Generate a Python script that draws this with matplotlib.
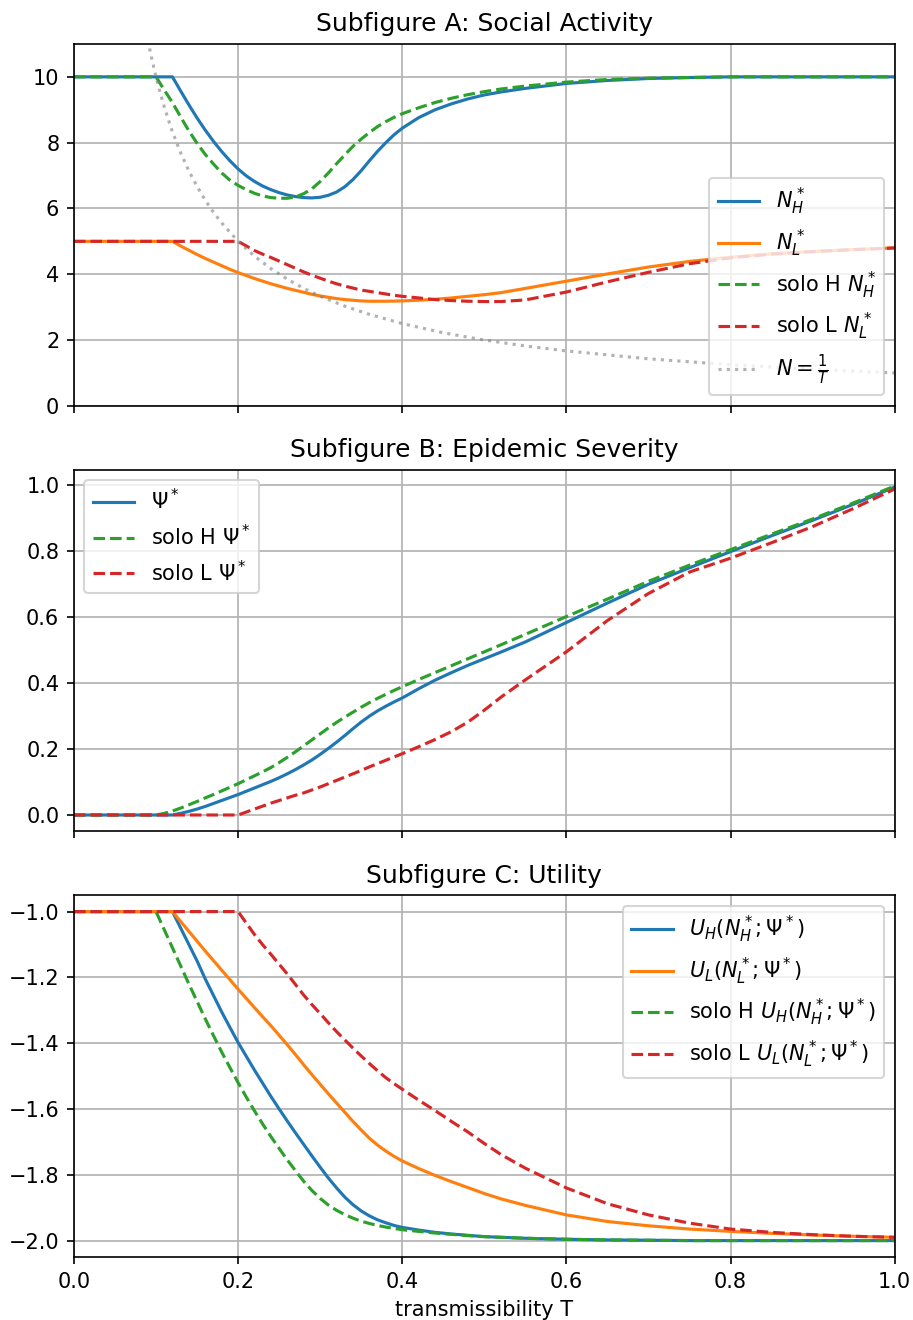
import numpy as np
import matplotlib
matplotlib.use("Agg")
import matplotlib.pyplot as plt

# transmissibility grid shared by all curves
T = [0.00, 0.10, 0.11, 0.12, 0.13, 0.14, 0.15, 0.16, 0.17, 0.18, 0.19,
     0.20, 0.21, 0.22, 0.23, 0.24, 0.25, 0.26, 0.27, 0.28, 0.29,
     0.30, 0.31, 0.32, 0.33, 0.34, 0.35, 0.36, 0.37, 0.38, 0.39,
     0.40, 0.42, 0.44, 0.46, 0.48, 0.50, 0.52, 0.55, 0.60, 0.65,
     0.70, 0.75, 0.80, 0.85, 0.90, 0.95, 1.00]

# Subfigure A: social activity
N_H = [10, 10, 10, 10, 9.57, 9.15, 8.75, 8.38, 8.04, 7.73, 7.45,
       7.20, 6.99, 6.82, 6.68, 6.57, 6.48, 6.41, 6.36, 6.33, 6.32,
       6.34, 6.40, 6.50, 6.66, 6.88, 7.15, 7.45, 7.74, 8.00, 8.24,
       8.44, 8.76, 9.00, 9.18, 9.33, 9.45, 9.54, 9.65, 9.80, 9.89,
       9.95, 9.98, 10, 10, 10, 10, 10]
N_L = [5, 5, 5, 5, 4.86, 4.73, 4.60, 4.48, 4.37, 4.26, 4.15,
       4.05, 3.96, 3.87, 3.79, 3.71, 3.64, 3.57, 3.51, 3.45, 3.39,
       3.34, 3.30, 3.26, 3.23, 3.21, 3.19, 3.18, 3.18, 3.18, 3.185,
       3.19, 3.21, 3.24, 3.28, 3.33, 3.38, 3.44, 3.57, 3.79, 4.01,
       4.22, 4.39, 4.52, 4.62, 4.69, 4.75, 4.80]
solo_N_H = [10, 10, 9.60, 9.22, 8.78, 8.36, 7.98, 7.64, 7.35, 7.08, 6.86,
            6.70, 6.57, 6.46, 6.38, 6.33, 6.31, 6.31, 6.35, 6.45, 6.60,
            6.82, 7.08, 7.36, 7.63, 7.89, 8.11, 8.31, 8.49, 8.64, 8.77,
            8.88, 9.06, 9.22, 9.35, 9.46, 9.55, 9.63, 9.72, 9.84, 9.92,
            9.96, 9.98, 10, 10, 10, 10, 10]
solo_N_L = [5, 5, 5, 5, 5, 5, 5, 5, 5, 5, 5,
            5, 4.86, 4.72, 4.61, 4.51, 4.40, 4.29, 4.18, 4.07, 3.97,
            3.88, 3.79, 3.71, 3.64, 3.58, 3.52, 3.48, 3.44, 3.40, 3.36,
            3.33, 3.28, 3.23, 3.20, 3.18, 3.17, 3.17, 3.22, 3.46, 3.77,
            4.06, 4.32, 4.50, 4.61, 4.69, 4.75, 4.80]

T_inv = [0.09, 0.095, 0.10, 0.105, 0.11, 0.115, 0.12, 0.13, 0.14, 0.15, 0.16, 0.17,
         0.18, 0.20, 0.22, 0.24, 0.26, 0.28, 0.30, 0.33, 0.36, 0.40, 0.45, 0.50,
         0.55, 0.60, 0.70, 0.80, 0.90, 1.00]
N_inv = [11.11, 10.53, 10.0, 9.52, 9.09, 8.70, 8.33, 7.69, 7.14, 6.67, 6.25, 5.88,
         5.56, 5.0, 4.55, 4.17, 3.85, 3.57, 3.33, 3.03, 2.78, 2.5, 2.22, 2.0,
         1.82, 1.67, 1.43, 1.25, 1.11, 1.0]

# Subfigure B: epidemic severity
Psi = [0, 0, 0, 0, 0.005, 0.011, 0.018, 0.026, 0.035, 0.044, 0.053,
       0.062, 0.072, 0.082, 0.092, 0.102, 0.113, 0.125, 0.138, 0.152, 0.167,
       0.184, 0.202, 0.221, 0.241, 0.262, 0.282, 0.300, 0.316, 0.330, 0.343,
       0.355, 0.383, 0.409, 0.432, 0.454, 0.474, 0.494, 0.525, 0.584, 0.643,
       0.700, 0.750, 0.799, 0.847, 0.894, 0.943, 0.995]
solo_Psi_H = [0, 0, 0.005, 0.012, 0.021, 0.031, 0.041, 0.052, 0.062, 0.073, 0.084,
              0.095, 0.107, 0.119, 0.131, 0.144, 0.159, 0.175, 0.192, 0.210, 0.228,
              0.246, 0.264, 0.281, 0.297, 0.312, 0.327, 0.341, 0.354, 0.366, 0.378,
              0.389, 0.411, 0.432, 0.453, 0.474, 0.495, 0.516, 0.548, 0.602, 0.655,
              0.709, 0.758, 0.805, 0.852, 0.898, 0.947, 0.998]
solo_Psi_L = [0, 0, 0, 0, 0, 0, 0, 0, 0, 0, 0,
              0, 0.009, 0.018, 0.027, 0.036, 0.044, 0.052, 0.060, 0.067, 0.076,
              0.085, 0.095, 0.105, 0.115, 0.125, 0.135, 0.146, 0.156, 0.166, 0.176,
              0.186, 0.207, 0.229, 0.253, 0.282, 0.318, 0.357, 0.410, 0.495, 0.590,
              0.672, 0.737, 0.779, 0.826, 0.875, 0.930, 0.989]

# Subfigure C: utility
U_H = [-1, -1, -1, -1, -1.05, -1.10, -1.15, -1.205, -1.255, -1.305, -1.352,
       -1.398, -1.44, -1.482, -1.522, -1.562, -1.60, -1.637, -1.673, -1.708, -1.743,
       -1.777, -1.81, -1.84, -1.868, -1.891, -1.91, -1.925, -1.937, -1.946, -1.954,
       -1.96, -1.968, -1.975, -1.98, -1.984, -1.988, -1.99, -1.993, -1.996, -1.998,
       -1.999, -2.0, -2.0, -2.0, -2.0, -2.0, -2.0]
U_L = [-1, -1, -1, -1, -1.03, -1.06, -1.09, -1.12, -1.149, -1.178, -1.207,
       -1.236, -1.264, -1.292, -1.32, -1.347, -1.376, -1.405, -1.435, -1.466, -1.496,
       -1.525, -1.554, -1.582, -1.61, -1.638, -1.664, -1.689, -1.71, -1.728, -1.744,
       -1.758, -1.781, -1.802, -1.821, -1.839, -1.857, -1.873, -1.893, -1.922, -1.942,
       -1.955, -1.965, -1.972, -1.978, -1.983, -1.987, -1.99]
solo_U_H = [-1, -1, -1.055, -1.11, -1.165, -1.22, -1.273, -1.326, -1.377, -1.427, -1.474,
            -1.52, -1.564, -1.606, -1.646, -1.684, -1.72, -1.755, -1.788, -1.82, -1.848,
            -1.872, -1.892, -1.908, -1.921, -1.932, -1.941, -1.948, -1.954, -1.959, -1.963,
            -1.967, -1.972, -1.977, -1.981, -1.985, -1.988, -1.99, -1.993, -1.996, -1.998,
            -1.999, -2.0, -2.0, -2.0, -2.0, -2.0, -2.0]
solo_U_L = [-1, -1, -1, -1, -1, -1, -1, -1, -1, -1, -1,
            -1, -1.035, -1.07, -1.101, -1.13, -1.16, -1.19, -1.222, -1.254, -1.283,
            -1.31, -1.338, -1.365, -1.39, -1.415, -1.439, -1.462, -1.484, -1.505, -1.523,
            -1.54, -1.573, -1.605, -1.638, -1.67, -1.705, -1.738, -1.78, -1.84, -1.888,
            -1.922, -1.947, -1.965, -1.975, -1.982, -1.987, -1.99]

dpi = 150
fig, (ax1, ax2, ax3) = plt.subplots(3, 1, sharex=True, figsize=(913/dpi, 1320/dpi), dpi=dpi)
fig.subplots_adjust(left=0.081, right=0.980, top=0.9667, bottom=0.0477, hspace=0.176)

ax1.plot(T, N_H, c='C0', label=r'$N_H^*$')
ax1.plot(T, N_L, c='C1', label=r'$N_L^*$')
ax1.plot(T, solo_N_H, c='C2', ls='--', label=r'solo H $N_H^*$')
ax1.plot(T, solo_N_L, c='C3', ls='--', label=r'solo L $N_L^*$')
ax1.plot(T_inv, N_inv, c='grey', ls=':', alpha=0.6, label=r'$N=\frac{1}{T}$')
ax1.set_ylim(0, 11)
ax1.set_title('Subfigure A: Social Activity')
ax1.legend(loc='lower right')
ax1.grid(True)

ax2.plot(T, Psi, c='C0', label=r'$\Psi^*$')
ax2.plot(T, solo_Psi_H, c='C2', ls='--', label=r'solo H $\Psi^*$')
ax2.plot(T, solo_Psi_L, c='C3', ls='--', label=r'solo L $\Psi^*$')
ax2.set_title('Subfigure B: Epidemic Severity')
ax2.legend(loc='upper left')
ax2.grid(True)

ax3.plot(T, U_H, c='C0', label=r'$U_H(N_H^*;\Psi^*)$')
ax3.plot(T, U_L, c='C1', label=r'$U_L(N_L^*;\Psi^*)$')
ax3.plot(T, solo_U_H, c='C2', ls='--', label=r'solo H $U_H(N_H^*;\Psi^*)$')
ax3.plot(T, solo_U_L, c='C3', ls='--', label=r'solo L $U_L(N_L^*;\Psi^*)$')
ax3.set_title('Subfigure C: Utility')
ax3.legend(loc='upper right')
ax3.grid(True)
ax3.set_xlim(0, 1)
ax3.set_xlabel('transmissibility T')

plt.savefig('out.png', dpi=dpi)
